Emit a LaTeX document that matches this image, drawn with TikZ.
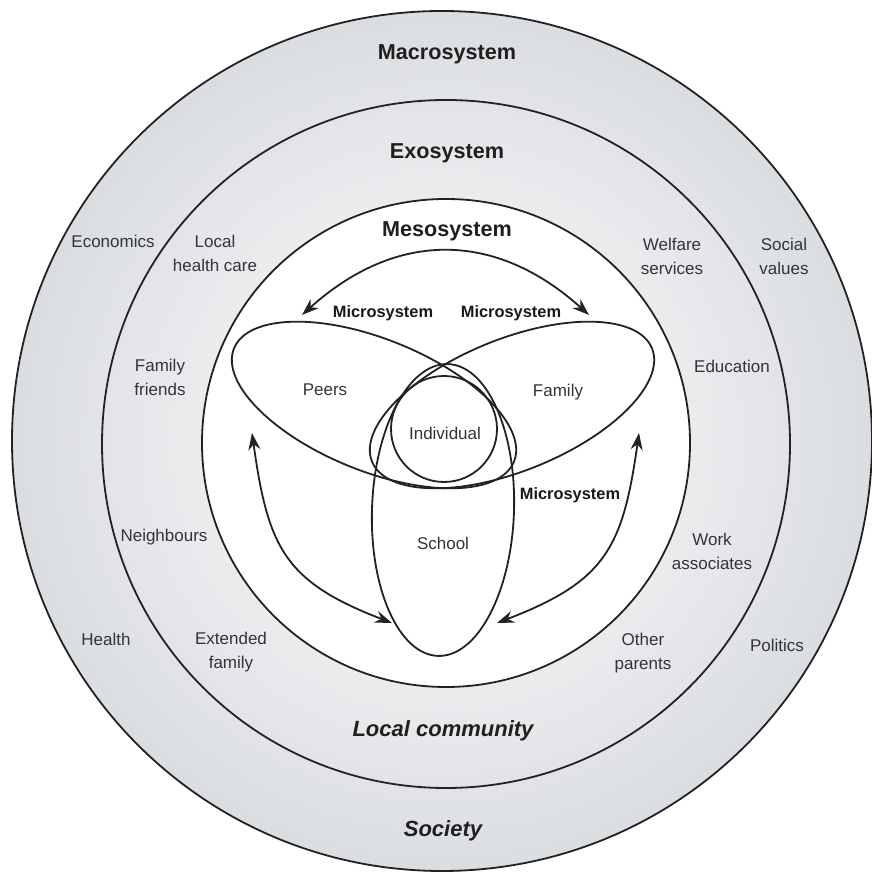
\documentclass[tikz,border=0pt]{standalone}
\usepackage{fontspec}
\setmainfont{Liberation Sans}
\usetikzlibrary{arrows.meta}

\definecolor{ringdark}{RGB}{152,157,162}
\definecolor{ringmid}{RGB}{194,198,202}
\definecolor{ringlight}{RGB}{214,217,221}
\definecolor{inkgray}{RGB}{34,34,36}
\definecolor{labelgray}{RGB}{50,52,56}
\pgfdeclareradialshading{ringshade}{\pgfpoint{0bp}{0bp}}{color(0bp)=(white); color(28bp)=(ringlight); color(40bp)=(ringmid); color(50bp)=(ringdark)}

\begin{document}
\begin{tikzpicture}[x=0.5pt, y=0.5pt, line join=round,
  rim/.style={line width=0.9pt, draw=inkgray},
  link/.style={line width=0.9pt, draw=inkgray,
    {Stealth[length=8.5pt,width=6pt]}-{Stealth[length=8.5pt,width=6pt]}},
  sysname/.style={font=\fontsize{10.8}{13}\selectfont\bfseries, text=black!88},
  realm/.style={font=\fontsize{11}{13}\selectfont\bfseries\itshape, text=black!88},
  microlbl/.style={font=\fontsize{8.2}{10}\selectfont\bfseries, text=black!90},
  locale/.style={font=\fontsize{8.5}{12}\selectfont, text=labelgray, align=center}]

  \useasboundingbox (0,0) rectangle (872,878);

  % Shaded rings
  \shade[shading=ringshade] (442,437) circle[radius=430];
  \draw[rim] (442,437) circle[radius=430]; % macrosystem
  \draw[rim] (446,434) circle[radius=344]; % exosystem
  \filldraw[rim, fill=white] (446,435) circle[radius=244]; % mesosystem

  % Microsystem ellipses
  \draw[rim] (374,473) ellipse[x radius=151, y radius=66, rotate=-22];
  \draw[rim] (512,473) ellipse[x radius=151, y radius=66, rotate=22];
  \draw[rim] (443,368) ellipse[x radius=71, y radius=146, rotate=-2];
  \draw[rim] (444,449) circle[radius=53];

  % Arrow ends
  \coordinate (peersTip) at (302,563);
  \coordinate (familyTip) at (589,563);
  \coordinate (peersFoot) at (252,445);
  \coordinate (schoolWest) at (392,255);
  \coordinate (familyFoot) at (639,445);
  \coordinate (schoolEast) at (497,255);

  \draw[link] (peersTip) to[out=42, in=138, looseness=1.13] (familyTip);
  \draw[link] (peersFoot) to[out=-82, in=159, looseness=1.25] (schoolWest);
  \draw[link] (familyFoot) to[out=-98, in=21, looseness=1.25] (schoolEast);

  % System names
  \node[sysname] (macro) at (447,824) {Macrosystem};
  \node[sysname] (exo) at (447,725) {Exosystem};
  \node[sysname] (meso) at (447,647) {Mesosystem};
  \node[realm] (community) at (443,147) {Local community};
  \node[realm] (society) at (443,47) {Society};

  % Microsystem labels
  \node[microlbl] (microL) at (383,565) {Microsystem};
  \node[microlbl] (microR) at (511,565) {Microsystem};
  \node[microlbl] (microS) at (570,383) {Microsystem};
  \node[locale] (peers) at (325,488) {Peers};
  \node[locale] (family) at (558,486) {Family};
  \node[locale] (individual) at (445,445) {Individual};
  \node[locale] (school) at (443,335) {School};

  % Exosystem and macrosystem labels
  \node[locale] (economics) at (113,637) {Economics};
  \node[locale] (healthcare) at (215,625) {Local\\health care};
  \node[locale] (welfare) at (672,622) {Welfare\\services};
  \node[locale] (values) at (784,622) {Social\\values};
  \node[locale] (friends) at (160,501) {Family\\friends};
  \node[locale] (education) at (732,512) {Education};
  \node[locale] (neighbours) at (164,341) {Neighbours};
  \node[locale] (work) at (712,327) {Work\\associates};
  \node[locale] (health) at (106,239) {Health};
  \node[locale] (extended) at (231,226) {Extended\\family};
  \node[locale] (parents) at (643,225) {Other\\parents};
  \node[locale] (politics) at (777,233) {Politics};

\end{tikzpicture}
\end{document}
